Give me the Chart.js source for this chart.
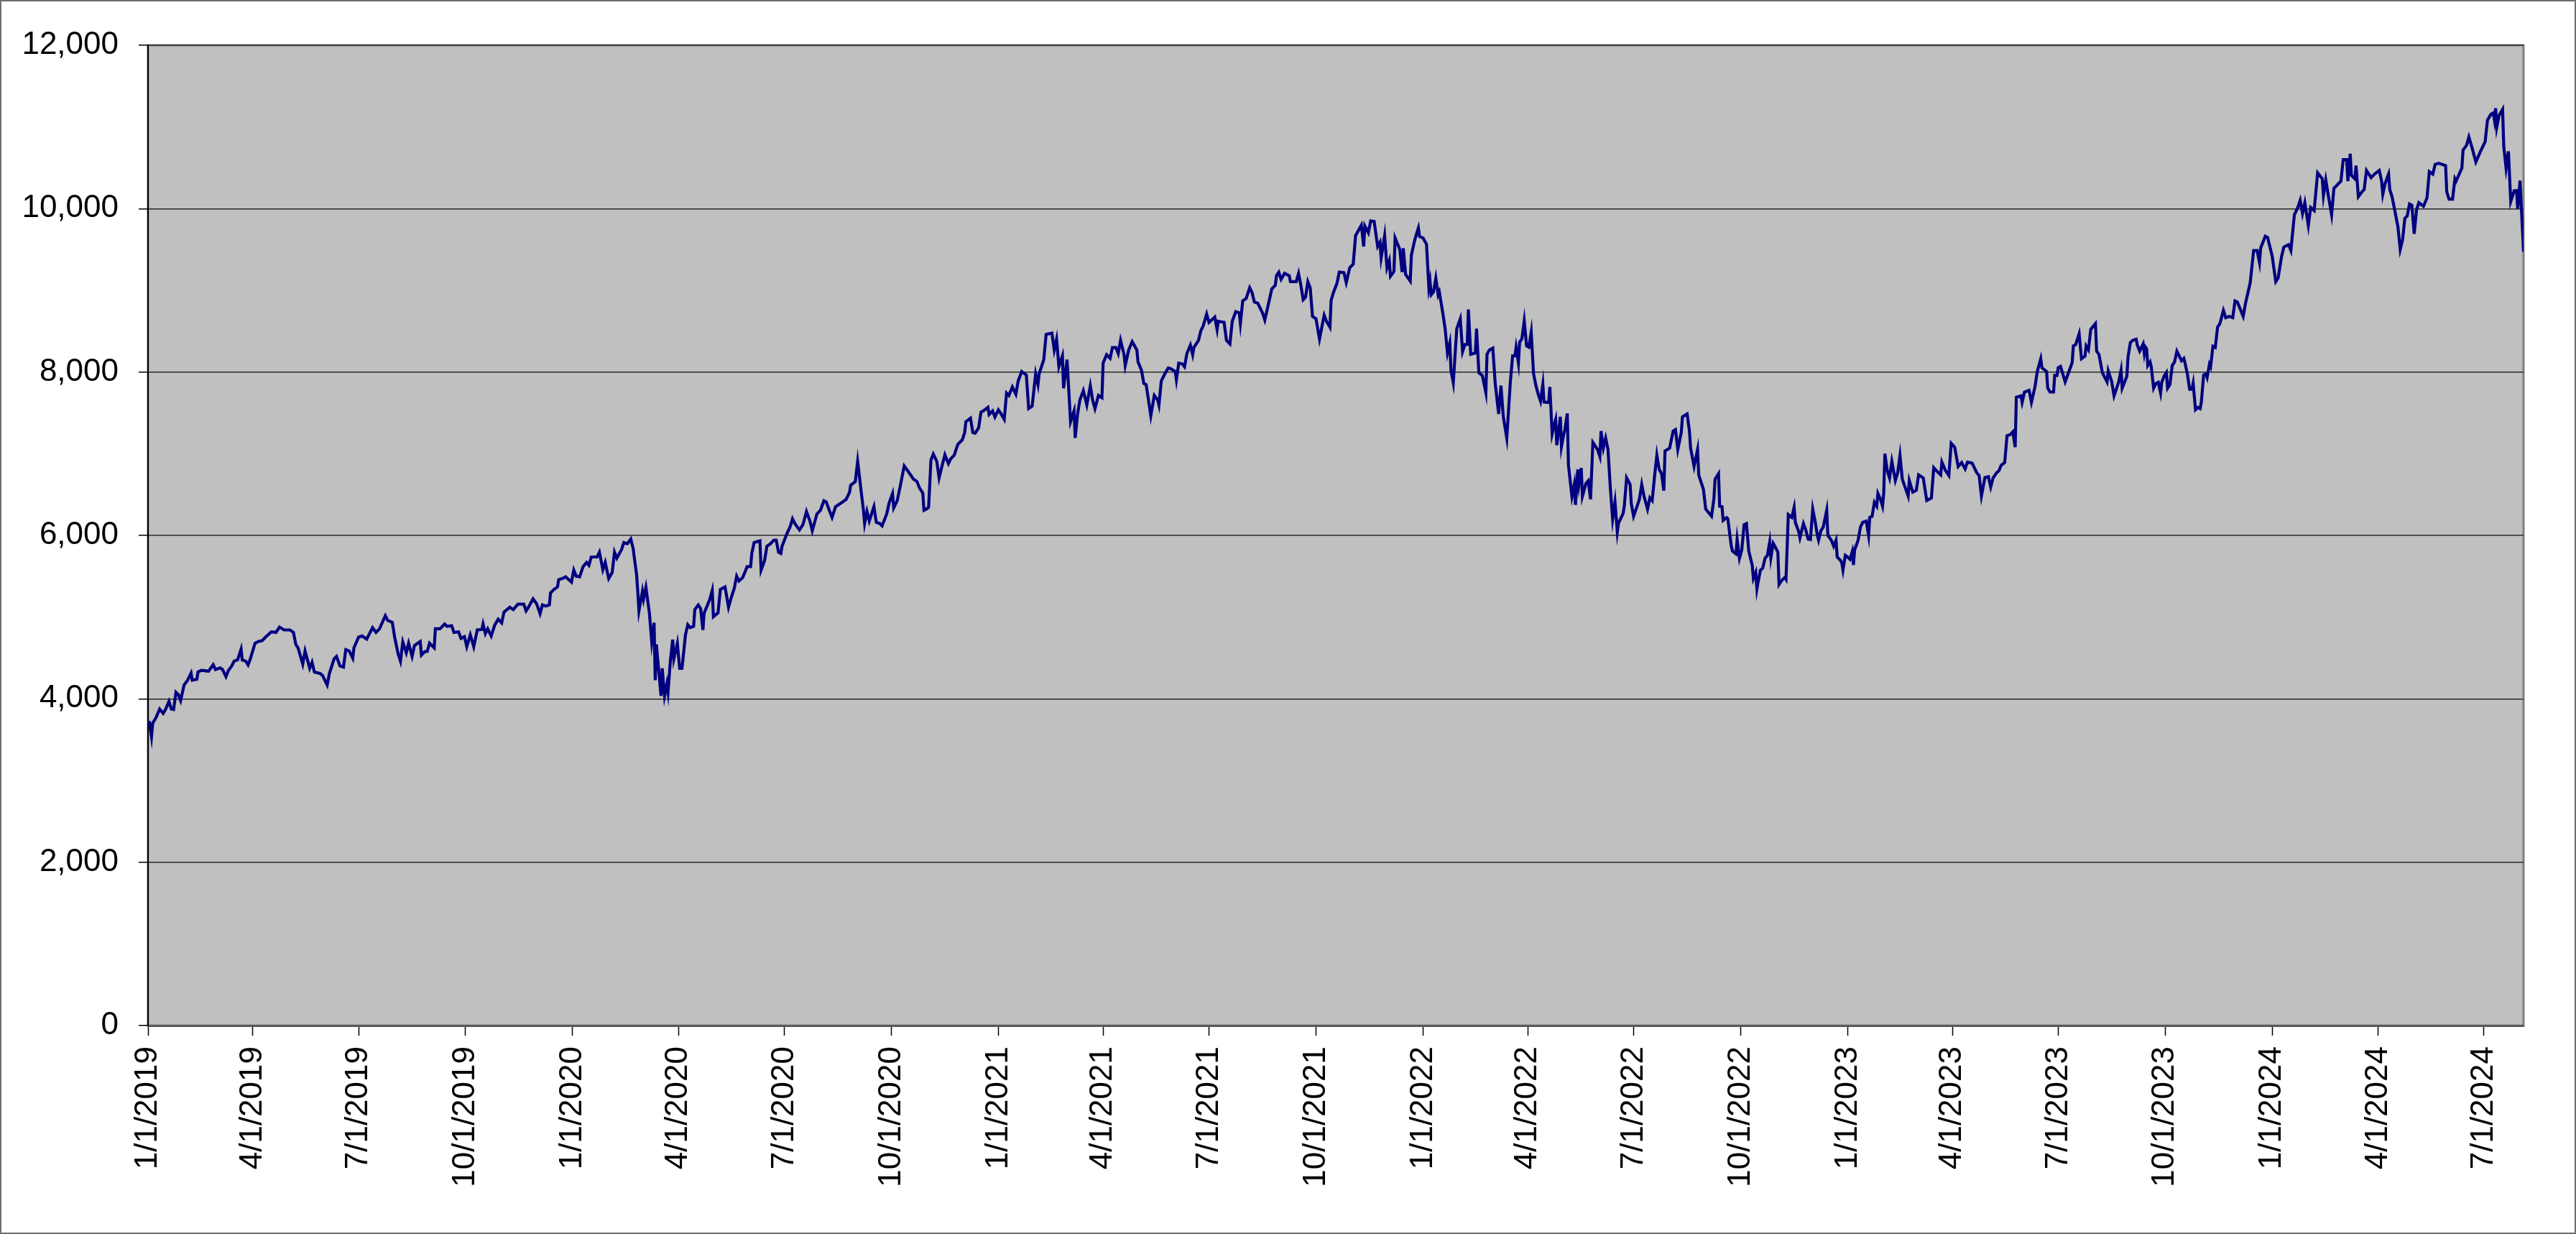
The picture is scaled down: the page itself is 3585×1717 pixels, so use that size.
<!DOCTYPE html>
<html>
<head>
<meta charset="utf-8">
<script src="https://cdn.jsdelivr.net/npm/chart.js@4.4.1/dist/chart.umd.min.js"></script>
<style>
  html, body { margin: 0; padding: 0; background: #fff; }
  canvas { display: block; }
</style>
</head>
<body>
<canvas id="indexChart" width="3585" height="1717"></canvas>
<script>
// days counted from 1/1/2019
const days = [
  1,3,4,7,10,13,15,18,20,22,24,26,28,31,34,37,38,42,43,46,52,56,58,62,64,67,69,72,74,77,80,81,84,86,88,92,95,98,101,106,110,113,117,122,125,127,129,133,135,139,141,143,148,150,154,156,160,162,165,168,170,173,176,177,181,184,188,193,196,199,204,206,210,212,215,217,219,222,224,227,229,234,235,238,240,242,246,247,251,255,257,261,263,267,269,272,274,277,280,283,287,288,290,292,295,298,301,304,306,311,314,318,323,325,327,331,334,337,339,
  342,345,346,349,352,353,356,359,364,366,368,371,374,377,379,381,386,388,391,393,396,399,401,403,407,409,412,415,417,420,421,422,425,426,428,431,433,435,436,437,439,441,442,444,446,447,449,451,452,455,457,459,462,464,466,469,470,473,475,477,478,481,483,485,486,490,492,496,499,501,504,506,508,511,513,515,518,519,521,526,527,530,532,535,538,540,542,544,545,549,552,554,556,560,563,566,569,571,573,575,578,581,583,585,588,591,594,597,600,603,604,608,610,613,615,616,618,620,624,626,629,631,635,637,640,641,644,647,650,653,658,661,663,666,667,669,671,673,675,678,680,
  682,685,688,690,693,696,700,702,703,707,709,711,714,716,718,722,723,726,728,731,733,736,738,740,743,746,748,751,755,757,760,763,765,766,770,772,777,779,781,783,786,787,790,793,796,797,799,801,804,807,810,812,814,817,820,821,824,827,829,832,834,836,839,840,843,846,850,851,854,856,858,860,862,865,868,869,871,874,877,879,883,884,886,889,891,893,896,898,899,903,905,907,910,912,917,919,920,925,927,930,932,935,938,939,941,944,947,949,951,954,958,960,963,966,969,970,972,974,977,981,982,987,989,991,993,995,997,999,1001,1004,1007,1011,1013,1016,
  1017,1019,1022,1024,1028,1030,1033,1036,1038,1043,1045,1046,1049,1051,1054,1057,1059,1060,1063,1065,1067,1068,1071,1072,1074,1076,1078,1079,1081,1085,1086,1089,1092,1093,1096,1099,1101,1102,1103,1105,1107,1109,1110,1113,1115,1117,1119,1120,1122,1125,1128,1130,1132,1134,1135,1137,1141,1142,1144,1147,1150,1151,1153,1156,1158,1161,1163,1165,1168,1171,1173,1175,1176,1178,1179,1181,1183,1185,1187,1189,1191,1193,1195,1197,1199,1200,1204,1205,1207,1209,1210,1211,1214,1215,1217,1218,1220,1221,1224,1226,1227,1229,1230,1232,1233,1236,1238,1240,1242,1246,1248,1249,1251,1253,1255,1257,1259,1261,1263,1264,1268,1269,1271,1274,1275,1277,1280,1282,1284,1286,1289,1291,1293,1295,1297,1299,1301,1303,1304,1308,1311,1313,1315,1318,1319,1323,1325,1326,1329,1332,1333,1337,1339,1344,1346,1347,1350,1351,1353,1354,1357,1358,
  1361,1362,1365,1366,1368,1370,1372,1374,1376,1379,1380,1382,1383,1384,1386,1388,1390,1392,1394,1395,1397,1399,1401,1402,1404,1407,1408,1410,1413,1415,1416,1419,1420,1423,1425,1427,1429,1431,1433,1435,1436,1438,1440,1443,1444,1447,1449,1451,1452,1455,1456,1457,1459,1461,1463,1465,1466,1467,1470,1472,1474,1477,1479,1480,
  1482,1484,1486,1487,1489,1491,1492,1493,1495,1497,1499,1502,1504,1506,1508,1513,1514,1517,1520,1522,1526,1529,1533,1535,1538,1541,1542,1545,1548,1550,1553,1556,1559,1562,1564,1568,1572,1574,1576,1579,1582,1584,1586,1589,1591,1593,1596,1598,1601,1603,1605,1606,1610,1611,1613,1617,1619,1622,1624,1627,1628,1632,1633,1635,1638,1639,1641,1642,1644,1648,1652,1654,1655,1657,1660,1662,1665,1666,1668,1670,1674,1675,1677,1680,1684,1685,1688,1690,1694,1696,1697,
  1701,1702,1704,1706,1709,1710,1712,1713,1715,1716,1717,1718,1719,1721,1722,1724,1726,1728,1730,1731,1733,1735,1736,1738,1740,1742,1744,1746,1748,1750,1751,1753,1755,1757,1758,1760,1762,1764,1765,1767,1769,1770,1772,1773,1775,1777,1779,
  1781,1784,1786,1789,1792,1794,1796,1801,1803,1807,1810,1813,1815,1816,1820,1822,1826,1829,1831,1834,1836,1840,1842,1845,1848,1850,1852,1854,1857,1859,1862,1865,1869,1870,1872,1874,1877,1879,1881,1885,1887,1890,1891,1893,1894,1897,1898,1900,1903,1905,1907,1911,1914,1918,1920,1921,1923,1926,1927,1929,1931,1934,1936,1938,1940,1942,1944,1946,1948,1950,1952,1956,1959,1961,1964,1966,1969,1972,1975,1976,1978,1981,1983,1984,1989,1990,1993,1995,1998,2001,2005,2009,2011,2014,2016,2017,2018,2019,2021,2024,2025,2027,2029,2031,2034,2036,2037,2039,2042
];

const values = [
  3729,3538,3700,3773,3875,3822,3869,3969,3875,3869,4080,4051,3978,4168,4227,4315,4227,4241,4329,4350,4338,4417,4359,4379,4359,4271,4344,4403,4461,4476,4608,4476,4461,4414,4491,4681,4702,4711,4755,4819,4813,4878,4843,4843,4813,4667,4623,4426,4585,4374,4447,4329,4309,4286,4168,4315,4491,4520,4403,4388,4602,4585,4497,4623,4755,4769,4731,4872,4813,4857,5018,4960,4936,4755,4549,4461,4696,4564,4681,4520,4652,4702,4535,4579,4579,4681,4623,4857,4857,4916,4887,4895,4813,4819,4740,4761,4638,4784,4638,4843,4849,4916,4799,4857,4769,4901,4975,4930,5062,5121,5092,5159,5159,5077,5121,5224,5165,5042,5150,
  5136,5150,5296,5340,5370,5458,5472,5493,5428,5575,5502,5493,5619,5669,5634,5736,5736,5795,5581,5669,5472,5546,5795,5722,5824,5912,5898,5956,5839,5516,5311,5077,5317,5223,5364,5048,4696,4930,4227,4666,4344,4036,4374,4036,4183,4080,4461,4725,4491,4681,4374,4374,4784,4907,4872,4887,5091,5150,5106,4842,5048,5150,5223,5326,5004,5053,5340,5370,5121,5223,5355,5502,5443,5481,5546,5619,5619,5780,5912,5934,5575,5692,5868,5898,5941,5941,5795,5780,5868,6014,6108,6205,6146,6067,6132,6293,6176,6058,6161,6264,6308,6425,6410,6331,6220,6352,6381,6410,6440,6527,6615,6659,6908,6542,6308,6146,6293,6176,6352,6161,6146,6117,6264,6396,6513,6337,6425,6630,6850,6791,6689,6659,6586,6518,6308,6322,6343,6923,6996,6908,6703,
  6821,6987,6879,6938,6982,7113,7172,7260,7392,7436,7260,7251,7318,7509,7524,7568,7480,7524,7450,7538,7494,7421,7743,7714,7817,7729,7890,8007,7963,7553,7582,7977,7846,7977,8153,8461,8476,8270,8402,8065,8197,7802,8153,7392,7524,7193,7480,7656,7773,7597,7831,7656,7553,7714,7685,8109,8212,8168,8300,8300,8226,8388,8212,8080,8270,8373,8270,8124,8021,7860,7846,7656,7465,7714,7656,7597,7890,7977,8050,8041,8007,7904,8109,8100,8065,8226,8329,8212,8300,8388,8505,8564,8710,8608,8674,8520,8622,8608,8388,8344,8622,8739,8725,8593,8871,8901,9032,8974,8857,8842,8725,8637,8827,9018,9061,9179,9222,9135,9208,9179,9106,9106,9208,9061,8886,8916,9106,9032,8681,8652,8403,8696,8622,8549,
  8877,8974,9085,9224,9217,9096,9276,9321,9669,9798,9537,9787,9704,9850,9843,9537,9589,9398,9669,9276,9363,9172,9231,9641,9572,9502,9224,9516,9196,9113,9433,9624,9763,9659,9641,9565,9033,9113,8946,8981,9148,8946,8981,8721,8530,8234,8356,8026,7869,8530,8651,8251,8338,8338,8766,8217,8234,8530,7991,7956,7747,8217,8269,8293,7869,7487,7834,7452,7191,7869,8199,8199,8304,8112,8362,8408,8627,8321,8304,8488,7981,7835,7730,7643,7852,7633,7626,7817,7243,7365,7417,7104,7452,7087,7243,7295,7494,6861,6478,6624,6374,6809,6624,6826,6478,6635,6669,6443,7139,7052,6965,7278,7069,7191,7052,6583,6200,6409,6044,6148,6270,6357,6705,6624,6391,6235,6357,6443,6624,6478,6322,6461,6426,6722,6983,6809,6757,6548,7035,7069,7278,7295,7052,7261,7452,7487,7278,7069,6843,7052,6739,6565,6322,6235,6443,6687,6757,6357,6352,6183,6218,6205,
  5868,5809,5774,5950,5721,5824,6132,6146,5809,5633,5472,5546,5346,5428,5575,5598,5721,5756,5920,5727,5903,5853,5795,5399,5443,5487,5464,6255,6220,6343,6161,6044,5971,6146,6067,5956,5950,6322,6176,6000,5941,6058,6102,6308,6000,5941,5868,5941,5736,5692,5663,5575,5756,5736,5707,5804,5639,5824,5941,6102,6161,6176,6000,6220,
  6232,6405,6358,6515,6452,6358,6515,7001,6797,6703,6907,6672,6766,6979,6687,6483,6672,6530,6552,6741,6703,6427,6458,6829,6782,6741,6898,6797,6734,7127,7080,6844,6892,6813,6898,6885,6766,6734,6483,6709,6719,6593,6703,6766,6791,6860,6892,7221,7237,7268,7080,7692,7708,7629,7755,7777,7629,7818,8006,8163,8053,8006,7802,7755,7755,7959,7959,8053,8069,7880,8037,8116,8320,8336,8468,8163,8194,8320,8273,8524,8593,8257,8216,7990,7880,8015,7880,7708,7880,8022,7802,
  7949,8183,8359,8388,8402,8329,8256,8285,8344,8227,8305,8285,8080,8124,8065,7802,7861,7875,7743,7875,7949,7993,7802,7846,8080,8124,8256,8197,8139,8168,8110,7978,7788,7788,7861,7539,7568,7553,7627,7964,7978,7934,8095,8065,8315,8300,8549,
  8593,8754,8666,8681,8666,8871,8857,8681,8842,9091,9487,9487,9340,9516,9662,9648,9414,9106,9150,9414,9530,9560,9487,9926,10014,10102,9941,10073,9794,10014,9977,10439,10366,10161,10351,10175,9926,10249,10278,10337,10600,10600,10337,10673,10410,10366,10527,10146,10205,10234,10468,10380,10424,10468,10337,10175,10307,10424,10234,10146,10000,9780,9501,9618,9882,9911,10058,10043,9692,9985,10073,10029,10131,10454,10424,10541,10556,10541,10527,10205,10117,10117,10366,10337,10497,10717,10776,10878,10732,10571,10702,10820,11084,11157,11172,11084,11230,10996,11143,11216,10761,10497,10702,10087,10219,10219,10000,10344,9472
];

const tickLabels = [
  '1/1/2019','4/1/2019','7/1/2019','10/1/2019',
  '1/1/2020','4/1/2020','7/1/2020','10/1/2020',
  '1/1/2021','4/1/2021','7/1/2021','10/1/2021',
  '1/1/2022','4/1/2022','7/1/2022','10/1/2022',
  '1/1/2023','4/1/2023','7/1/2023','10/1/2023',
  '1/1/2024','4/1/2024','7/1/2024'
];
const lastDay = 2042;

const DAY = 86400000;
const start = Date.UTC(2019, 0, 1);
const tickDays = tickLabels.map(s => {
  const [m, d, y] = s.split('/').map(Number);
  return (Date.UTC(y, m - 1, d) - start) / DAY;
});

const points = days.map((d, i) => ({ x: d, y: values[i] }));
const font = { family: '"Liberation Sans", Arial, sans-serif', size: 44 };

const frame = {
  id: 'frame',
  beforeDraw(chart) {
    const { ctx, chartArea: a } = chart;
    ctx.save();
    ctx.fillStyle = '#ffffff';
    ctx.fillRect(0, 0, chart.width, chart.height);
    ctx.fillStyle = '#c0c0c0';
    ctx.fillRect(a.left, a.top, a.right - a.left, a.bottom - a.top);
    ctx.strokeStyle = '#808080';
    ctx.lineWidth = 3;
    ctx.strokeRect(a.left, a.top, a.right - a.left, a.bottom - a.top);
    ctx.restore();
  },
  afterDraw(chart) {
    const ctx = chart.ctx;
    ctx.save();
    ctx.strokeStyle = '#6e6e6e';
    ctx.lineWidth = 2;
    ctx.strokeRect(1, 1, chart.width - 2, chart.height - 2);
    ctx.restore();
  }
};

new Chart(document.getElementById('indexChart').getContext('2d'), {
  type: 'line',
  data: {
    datasets: [{
      data: points,
      borderColor: '#000080',
      borderWidth: 4.2,
      pointRadius: 0,
      tension: 0,
      fill: false
    }]
  },
  options: {
    responsive: false,
    animation: false,
    devicePixelRatio: 1,
    layout: { padding: { top: 63, right: 73, left: 0, bottom: 0 } },
    plugins: { legend: { display: false }, tooltip: { enabled: false } },
    scales: {
      x: {
        type: 'linear',
        min: 0,
        max: lastDay,
        afterBuildTicks: s => { s.ticks = tickDays.map(v => ({ value: v })); },
        afterFit: s => { s.height = 290; },
        ticks: {
          autoSkip: false,
          maxRotation: 90,
          minRotation: 90,
          padding: 15,
          color: '#000',
          font: font,
          callback: (v, i) => tickLabels[i]
        },
        grid: { drawOnChartArea: false, drawTicks: true, tickLength: 14, tickColor: '#000', tickWidth: 1.5 },
        border: { display: true, color: '#5a5a5a', width: 3 }
      },
      y: {
        min: 0,
        max: 12000,
        afterFit: s => { s.width = 206; },
        ticks: {
          stepSize: 2000,
          padding: 28,
          color: '#000',
          font: font,
          callback: v => v.toLocaleString('en-US')
        },
        grid: { color: '#2a2a2a', lineWidth: 1.5, drawTicks: true, tickLength: 13, tickColor: '#000', tickWidth: 1.5 },
        border: { display: true, color: '#000', width: 2 }
      }
    }
  },
  plugins: [frame]
});
</script>
</body>
</html>
